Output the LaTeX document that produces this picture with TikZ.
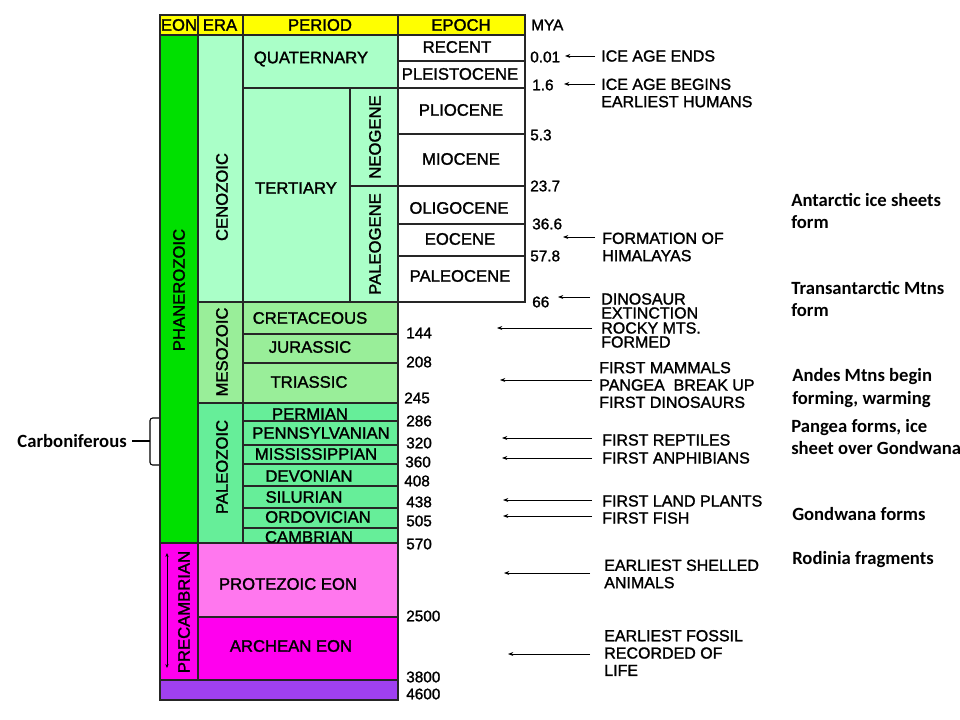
\documentclass[tikz,border=0pt]{standalone}
\usepackage{fontspec}
\setmainfont{Liberation Sans}[BoldFont=Liberation Sans, BoldFeatures={FakeBold=1.5}]
\newfontfamily\notefont{Carlito}
\usetikzlibrary{arrows.meta}
\definecolor{hdr}{RGB}{255,255,0}
\definecolor{phan}{RGB}{0,224,0}
\definecolor{ceno}{RGB}{170,255,200}
\definecolor{meso}{RGB}{153,238,153}
\definecolor{paleo}{RGB}{102,238,153}
\definecolor{prot}{RGB}{255,119,238}
\definecolor{arch}{RGB}{255,0,238}
\definecolor{hade}{RGB}{160,64,240}
\tikzset{
  cell/.style={draw=black!85, line width=0.9pt},
  lbl/.style={inner sep=0.75pt, font=\bfseries\fontsize{12.5}{13}\selectfont},
  mya/.style={inner sep=0.75pt, anchor=west, font=\bfseries\fontsize{11.5}{12}\selectfont},
  evt/.style={inner sep=0.75pt, anchor=west, align=left, font=\bfseries\fontsize{12}{13}\selectfont},
  note/.style={inner sep=0.75pt, anchor=west, align=left, font=\notefont\bfseries\fontsize{14}{17}\selectfont},
  ptr/.style={-{Stealth[length=4pt,width=3pt]}, line width=0.6pt}
}
\begin{document}
\begin{tikzpicture}[x=0.75pt,y=0.75pt,yscale=-1,xscale=1]
\useasboundingbox (0,0) rectangle (960,720);

% header row
\draw [cell, fill=hdr] (160,15) rectangle (198,35);
\draw [cell, fill=hdr] (198,15) rectangle (243,35);
\draw [cell, fill=hdr] (243,15) rectangle (398,35);
\draw [cell, fill=hdr] (398,15) rectangle (525,35);
\node (heon) [lbl] at (179,25) {EON};
\node (hera) [lbl] at (220,25) {ERA};
\node (hper) [lbl] at (320,25) {PERIOD};
\node (hepo) [lbl] at (461,25) {EPOCH};
\node (hmya) [mya] at (530,25) {MYA};

% eons
\draw [cell, fill=phan] (160,35) rectangle (198,543);
\draw [cell, fill=arch] (160,543) rectangle (198,680);
\draw [cell, fill=hade] (160,680) rectangle (398,700);
\node (phanero) [lbl, rotate=90] at (179,290) {PHANEROZOIC};
\node (precamb) [lbl, rotate=90] at (184,612) {PRECAMBRIAN};
\draw [{Stealth[length=3pt,width=2.5pt]}-{Stealth[length=3pt,width=2.5pt]}, line width=0.6pt] (167,553) -- (167,668);

% eras
\draw [cell, fill=ceno] (198,35) rectangle (243,302);
\draw [cell, fill=meso] (198,302) rectangle (243,403);
\draw [cell, fill=paleo] (198,403) rectangle (243,543);
\node (cenoz) [lbl, rotate=90] at (222,197) {CENOZOIC};
\node (mesoz) [lbl, rotate=90] at (222,352) {MESOZOIC};
\node (paleoz) [lbl, rotate=90] at (222,467) {PALEOZOIC};
\draw [cell, fill=prot] (198,543) rectangle (398,617);
\draw [cell, fill=arch] (198,617) rectangle (398,680);
\node (proteo) [lbl] at (288,584) {PROTEZOIC EON};
\node (archean) [lbl] at (291,646) {ARCHEAN EON};

% periods
\draw [cell, fill=ceno] (243,35) rectangle (398,88);
\draw [cell, fill=ceno] (243,88) rectangle (350,302);
\draw [cell, fill=ceno] (350,88) rectangle (398,186);
\draw [cell, fill=ceno] (350,186) rectangle (398,302);
\node (quat) [lbl] at (311,59) {QUATERNARY};
\node (tert) [lbl] at (296,188) {TERTIARY};
\node (neog) [lbl, rotate=90] at (375,137) {NEOGENE};
\node (paleog) [lbl, rotate=90] at (375,244) {PALEOGENE};
\draw [cell, fill=meso] (243,302) rectangle (398,334);
\draw [cell, fill=meso] (243,334) rectangle (398,363);
\draw [cell, fill=meso] (243,363) rectangle (398,403);
\node (cret) [lbl] at (310,318) {CRETACEOUS};
\node (jura) [lbl] at (310,347) {JURASSIC};
\node (tria) [lbl] at (309,382) {TRIASSIC};
\draw [cell, fill=paleo] (243,403) rectangle (398,421);
\draw [cell, fill=paleo] (243,421) rectangle (398,445);
\draw [cell, fill=paleo] (243,445) rectangle (398,464);
\draw [cell, fill=paleo] (243,464) rectangle (398,486);
\draw [cell, fill=paleo] (243,486) rectangle (398,508);
\draw [cell, fill=paleo] (243,508) rectangle (398,528);
\draw [cell, fill=paleo] (243,528) rectangle (398,543);
\node (perm) [lbl] at (310,414) {PERMIAN};
\node (penn) [lbl] at (321,433) {PENNSYLVANIAN};
\node (miss) [lbl] at (316,454) {MISSISSIPPIAN};
\node (devo) [lbl] at (309,476) {DEVONIAN};
\node (silu) [lbl] at (304,497) {SILURIAN};
\node (ordo) [lbl] at (318,517) {ORDOVICIAN};
\node (camb) [lbl] at (309,537) {CAMBRIAN};

% epochs
\draw [cell, fill=white] (398,35) rectangle (525,61);
\draw [cell, fill=white] (398,61) rectangle (525,88);
\draw [cell, fill=white] (398,88) rectangle (525,134);
\draw [cell, fill=white] (398,134) rectangle (525,186);
\draw [cell, fill=white] (398,186) rectangle (525,224);
\draw [cell, fill=white] (398,224) rectangle (525,256);
\draw [cell, fill=white] (398,256) rectangle (525,302);
\node (rece) [lbl] at (457,47) {RECENT};
\node (plei) [lbl] at (460,74) {PLEISTOCENE};
\node (plio) [lbl] at (461,110) {PLIOCENE};
\node (mioc) [lbl] at (461,159) {MIOCENE};
\node (olig) [lbl] at (459,208) {OLIGOCENE};
\node (eoce) [lbl] at (460,239) {EOCENE};
\node (pale) [lbl] at (460,276) {PALEOCENE};

% million years ago
\node (m1) [mya] at (529,57) {0.01};
\node (m2) [mya] at (531,85) {1.6};
\node (m3) [mya] at (529,135) {5.3};
\node (m4) [mya] at (529,186) {23.7};
\node (m5) [mya] at (531,224) {36.6};
\node (m6) [mya] at (529,256) {57.8};
\node (m7) [mya] at (531,302) {66};
\node (m8) [mya] at (405,333) {144};
\node (m9) [mya] at (405,362) {208};
\node (m10) [mya] at (403,398) {245};
\node (m11) [mya] at (405,421) {286};
\node (m12) [mya] at (405,443) {320};
\node (m13) [mya] at (404,462) {360};
\node (m14) [mya] at (403,481) {408};
\node (m15) [mya] at (405,502) {438};
\node (m16) [mya] at (405,521) {505};
\node (m17) [mya] at (405,544) {570};
\node (m18) [mya] at (405,616) {2500};
\node (m19) [mya] at (405,677) {3800};
\node (m20) [mya] at (405,694) {4600};

% events
\node (e1) [evt] at (600,56) {ICE AGE ENDS};
\node (e2) [evt] at (600,93) {ICE AGE BEGINS\\EARLIEST HUMANS};
\node (e3) [evt] at (601,247) {FORMATION OF\\HIMALAYAS};
\node (e4) [evt, font=\bfseries\fontsize{12}{10.5}\selectfont] at (600,306) {DINOSAUR\\EXTINCTION};
\node (e5) [evt, font=\bfseries\fontsize{12}{10.5}\selectfont] at (600,335) {ROCKY MTS.\\FORMED};
\node (e6) [evt] at (598,385) {FIRST MAMMALS\\PANGEA\ \ BREAK UP\\FIRST DINOSAURS};
\node (e7) [evt] at (601,440) {FIRST REPTILES};
\node (e8) [evt] at (601,458) {FIRST ANPHIBIANS};
\node (e9) [evt] at (601,501) {FIRST LAND PLANTS};
\node (e10) [evt] at (601,518) {FIRST FISH};
\node (e11) [evt] at (603,574) {EARLIEST SHELLED\\ANIMALS};
\node (e12) [evt] at (603,653) {EARLIEST FOSSIL\\RECORDED OF\\LIFE};

\coordinate (t1) at (565,56);
\coordinate (t2) at (564,84);
\coordinate (t3) at (563,237);
\coordinate (t4) at (558,297);
\coordinate (t5) at (497,328);
\coordinate (t6) at (500,380);
\coordinate (t7) at (502,438);
\coordinate (t8) at (502,458);
\coordinate (t9) at (503,500);
\coordinate (t10) at (503,516);
\coordinate (t11) at (504,573);
\coordinate (t12) at (508,654);
\draw [ptr] (e1.west) ++(-5,0) -- (t1);
\draw [ptr] (595,84) -- (t2);
\draw [ptr] (595,237) -- (t3);
\draw [ptr] (590,297) -- (t4);
\draw [ptr] (592,328) -- (t5);
\draw [ptr] (592,380) -- (t6);
\draw [ptr] (592,438) -- (t7);
\draw [ptr] (592,458) -- (t8);
\draw [ptr] (592,500) -- (t9);
\draw [ptr] (592,516) -- (t10);
\draw [ptr] (590,573) -- (t11);
\draw [ptr] (590,654) -- (t12);

% notes
\node (n1) [note] at (790,211) {Antarctic ice sheets\\form};
\node (n2) [note] at (790,299) {Transantarctic Mtns\\form};
\node (n3) [note] at (791,388) {Andes Mtns begin\\forming, warming};
\node (n4) [note] at (790,437) {Pangea forms, ice\\sheet over Gondwana};
\node (n5) [note] at (791,514) {Gondwana forms};
\node (n6) [note] at (791,560) {Rodinia fragments};

% carboniferous brace
\node (carb) [note, anchor=east] at (128,441) {Carboniferous};
\draw [line width=0.8pt, rounded corners=2pt] (159,418) -- (150,418) -- (150,465) -- (159,465);
\draw [line width=0.8pt] (150,441) -- (132,441);

\end{tikzpicture}
\end{document}
